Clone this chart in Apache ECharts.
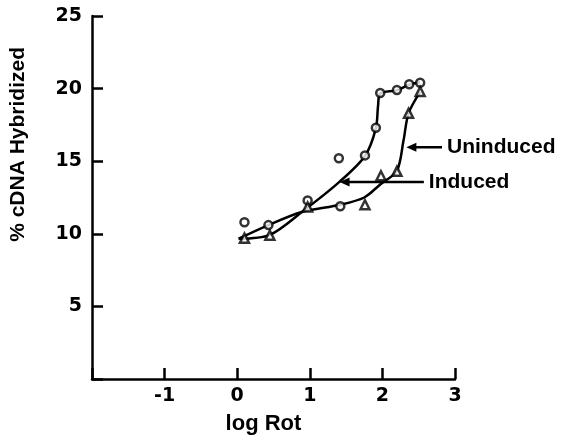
<!DOCTYPE html>
<html>
<head>
<meta charset="utf-8">
<script src="https://cdn.jsdelivr.net/npm/echarts@6/dist/echarts.min.js"></script>
<style>
  html, body { margin: 0; padding: 0; background: #fff; }
  #chart { width: 564px; height: 440px; }
</style>
</head>
<body>
<div id="chart"></div>
<script>
  // measured points, log Rot vs % hybridized
  const inducedPts = [[0.1, 10.8], [0.43, 10.6], [0.97, 12.3], [1.4, 15.2], [1.42, 11.9],
    [1.76, 15.4], [1.91, 17.3], [1.97, 19.7], [2.2, 19.9], [2.37, 20.3], [2.52, 20.4]];
  const uninducedPts = [[0.1, 9.7], [0.45, 9.9], [0.97, 11.85], [1.76, 12.0],
    [1.98, 14.0], [2.2, 14.3], [2.36, 18.3], [2.52, 19.8]];

  // hand drawn fit curves
  const inducedCurve = [[0.02, 9.66], [0.45, 9.93], [0.89, 11.5], [1.4, 13.54], [1.76, 15.36],
    [1.91, 17.26], [1.94, 18.8], [1.97, 19.66], [2.2, 19.88], [2.37, 20.27], [2.52, 20.43]];
  const uninducedCurve = [[0.02, 9.66], [0.43, 10.6], [0.89, 11.5], [1.42, 12.0], [1.75, 12.5],
    [1.97, 13.4], [2.2, 14.34], [2.29, 16.4], [2.36, 18.29], [2.52, 19.77]];

  // label, text x, arrow tip x, y
  const notes = [
    ['Uninduced', 2.89, 2.33, 15.96],
    ['Induced', 2.64, 1.41, 13.56]
  ];

  const font = 'Liberation Sans';
  const myChart = echarts.init(document.getElementById('chart'));

  const option = {
    animation: false,
    grid: { left: 92, top: 16, right: 109, bottom: 59 },
    xAxis: {
      type: 'value', min: -2, max: 3, interval: 1,
      name: 'log Rot', nameLocation: 'middle', nameGap: 34,
      nameTextStyle: { color: '#000', fontFamily: font, fontWeight: 'bold', fontSize: 22, padding: [0, 20, 0, 0] },
      axisLine: { onZero: false, lineStyle: { color: '#000', width: 2.5 } },
      axisTick: { inside: true, length: 11, lineStyle: { color: '#000', width: 2.5 } },
      axisLabel: { color: '#000', fontFamily: 'DejaVu Sans', fontWeight: 'bold', fontSize: 19, margin: 8,
        formatter: v => (v === -2 ? '' : String(v)) },
      splitLine: { show: false }
    },
    yAxis: {
      type: 'value', min: 0, max: 25, interval: 5,
      axisLine: { show: true, onZero: false, lineStyle: { color: '#000', width: 2.5 } },
      axisTick: { show: true, inside: true, length: 11, lineStyle: { color: '#000', width: 2.5 } },
      axisLabel: { color: '#000', fontFamily: 'DejaVu Sans', fontWeight: 'bold', fontSize: 19, margin: 10,
        formatter: v => (v === 0 ? '' : String(v)) },
      splitLine: { show: false }
    },
    series: [
      {
        name: 'Induced fit', type: 'line', data: inducedCurve, smooth: 0.3,
        showSymbol: false, lineStyle: { color: '#000', width: 2.5 }, z: 2
      },
      {
        name: 'Uninduced fit', type: 'line', data: uninducedCurve, smooth: 0.3,
        showSymbol: false, lineStyle: { color: '#000', width: 2.5 }, z: 2
      },
      {
        name: 'Induced', type: 'scatter', data: inducedPts, symbol: 'circle', symbolSize: 8,
        itemStyle: { color: '#fff', borderColor: '#000', borderWidth: 2.5 }, z: 3
      },
      {
        name: 'Uninduced', type: 'scatter', data: uninducedPts, symbol: 'triangle', symbolSize: 9,
        itemStyle: { color: '#fff', borderColor: '#000', borderWidth: 2.5 }, z: 3
      }
    ]
  };
  myChart.setOption(option);

  // labels with arrows, placed from data coords
  const graphics = [{
    type: 'text', left: 8, top: 47, rotation: Math.PI / 2,
    style: { text: '% cDNA Hybridized', fill: '#000', font: 'bold 21px "' + font + '"' }
  }];
  notes.forEach(([label, tx, tip, y]) => {
    const a = myChart.convertToPixel('grid', [tx, y]);
    const b = myChart.convertToPixel('grid', [tip, y]);
    graphics.push({
      type: 'text', x: a[0], y: a[1],
      style: { text: label, fill: '#000', font: 'bold 21px "' + font + '"', verticalAlign: 'middle' }
    });
    graphics.push({
      type: 'line', shape: { x1: a[0] - 5, y1: a[1], x2: b[0] + 6, y2: b[1] },
      style: { stroke: '#000', lineWidth: 2.5 }
    });
    graphics.push({
      type: 'polygon', shape: { points: [[b[0], b[1]], [b[0] + 10, b[1] - 4.5], [b[0] + 10, b[1] + 4.5]] },
      style: { fill: '#000' }
    });
  });
  myChart.setOption({ graphic: graphics });
</script>
</body>
</html>
